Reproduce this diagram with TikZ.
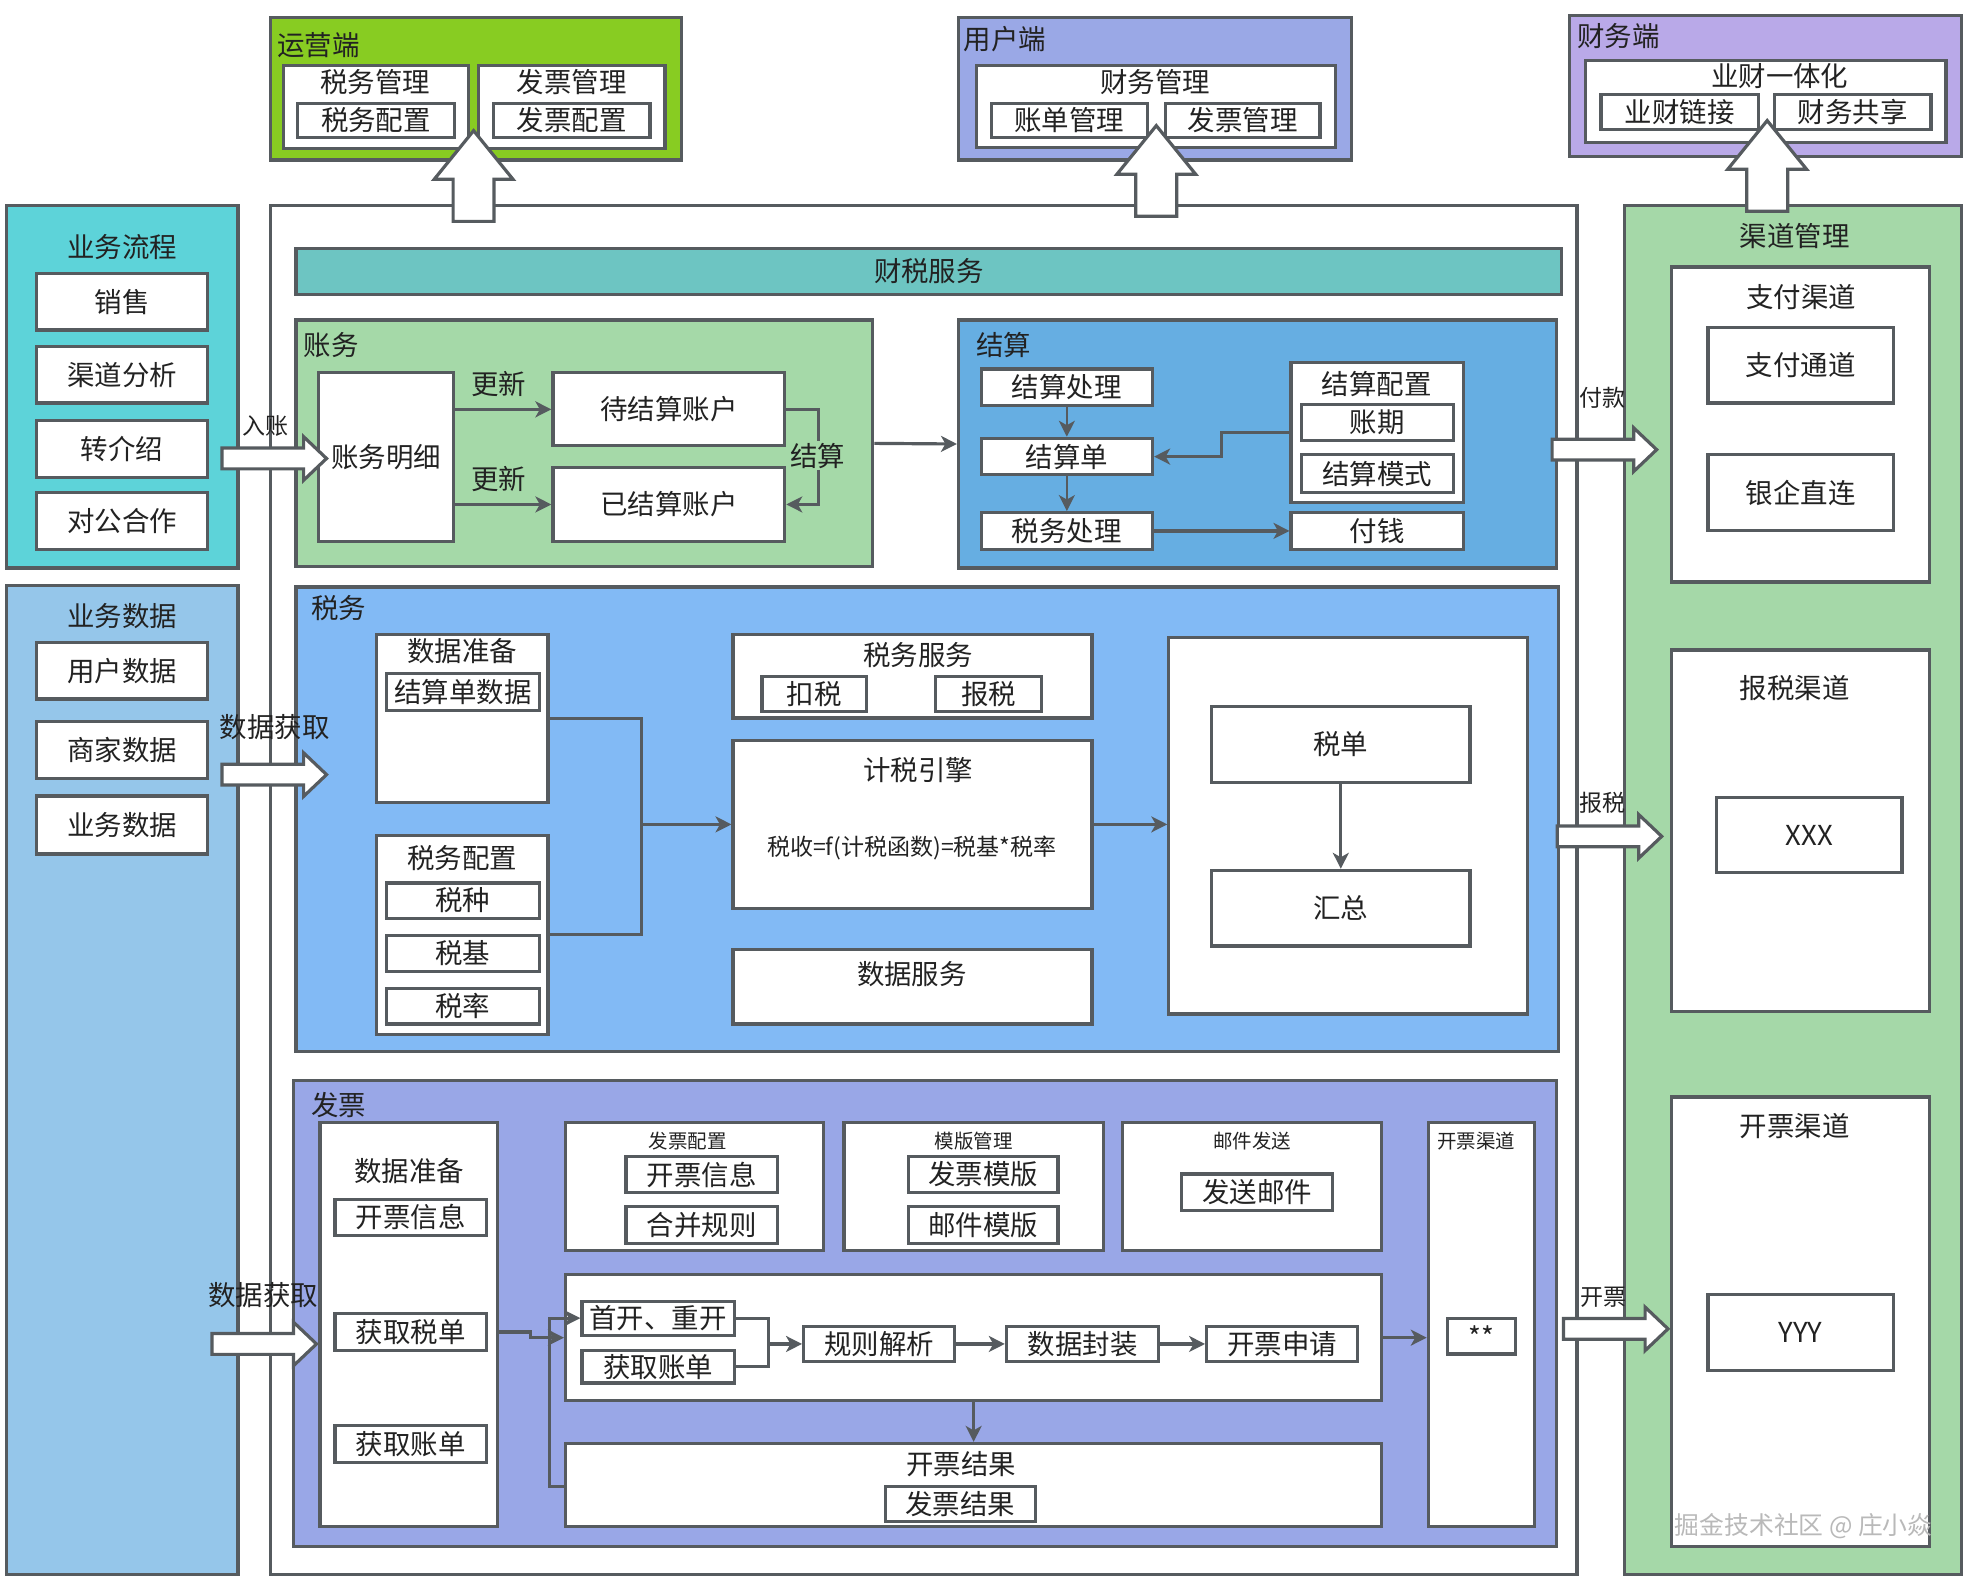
\documentclass[tikz,border=0pt]{standalone}
\usepackage{fontspec}
\setmainfont{Noto Sans CJK SC}
\usetikzlibrary{arrows.meta,shapes.arrows}

\definecolor{linegray}{HTML}{565B5F}
\definecolor{textdark}{HTML}{222222}
\definecolor{opsgreen}{HTML}{88CC22}
\definecolor{userblue}{HTML}{9AA8E6}
\definecolor{finpurple}{HTML}{B9A9E8}
\definecolor{flowcyan}{HTML}{5DD3D9}
\definecolor{datablue}{HTML}{95C6EA}
\definecolor{svcteal}{HTML}{6DC5C2}
\definecolor{acctgreen}{HTML}{A5D9A8}
\definecolor{settleblue}{HTML}{66AEE2}
\definecolor{taxblue}{HTML}{82BAF5}
\definecolor{invblue}{HTML}{99A7E7}
\definecolor{chgreen}{HTML}{A5D8A8}

\newcommand{\px}{0.025cm}
\newcommand{\mainsz}{\fontsize{15.5}{18}\selectfont}
\newcommand{\smallsz}{\fontsize{11}{13}\selectfont}
\newcommand{\tagsz}{\fontsize{13}{15}\selectfont}

\tikzset{
  cell/.style n args={4}{minimum width={(#3-#1)*\px}, minimum height={(#4-#2)*\px},
    at={({(#1+#3)/2},{(#2+#4)/2})}},
  panel/.style={draw=linegray, line width=1.8pt, inner sep=0pt},
  box/.style={panel, fill=white, font=\mainsz, text=textdark},
  title/.style={font=\mainsz, text=textdark, inner sep=0pt},
  head/.style={title, anchor=west},
  small/.style={font=\smallsz, text=textdark, inner sep=0pt},
  tag/.style={font=\tagsz, text=textdark, inner sep=0pt},
  link/.style={draw=linegray, line width=1.8pt},
  flow/.style={link, -{Stealth[length=9pt,width=9pt,inset=2.5pt]}},
  hollow/.style={single arrow, draw=linegray, fill=white, line width=1.8pt,
    inner sep=0pt, inner ysep=7*\px, minimum width=0pt, minimum height=83*\px,
    single arrow head extend=9*\px, single arrow tip angle=87, anchor=tail},
  hollowup/.style={hollow, rotate=90, inner ysep=15*\px, single arrow head extend=15*\px,
    minimum height=72*\px, single arrow tip angle=78},
}

\begin{document}
\begin{tikzpicture}[x=0.025cm, y=-0.025cm]
\useasboundingbox (0,0) rectangle (1568,1255);

% top: 运营端
\node[panel, fill=opsgreen, cell={215}{14}{541}{127}] (ops) {};
\node[head] (opslbl) at (220,36) {运营端};
\node[box, cell={225}{52}{372}{118}] (taxmgr) {};
\node[title] (taxmgrlbl) at (298,65) {税务管理};
\node[box, cell={236}{82}{361}{109}] (taxcfg) {税务配置};
\node[box, cell={380}{52}{528}{118}] (invmgr) {};
\node[title] (invmgrlbl) at (454,65) {发票管理};
\node[box, cell={392}{82}{516}{109}] (invcfg) {发票配置};

% top: 用户端
\node[panel, fill=userblue, cell={761}{14}{1073}{127}] (user) {};
\node[head] (userlbl) at (765,31) {用户端};
\node[box, cell={775}{52}{1060}{117}] (finmgr) {};
\node[title] (finmgrlbl) at (917,65) {财务管理};
\node[box, cell={787}{82}{911}{109}] (billmgr) {账单管理};
\node[box, cell={925}{82}{1048}{109}] (uinvmgr) {发票管理};

% top: 财务端
\node[panel, fill=finpurple, cell={1246}{12}{1557}{124}] (fin) {};
\node[head] (finlbl) at (1252,29) {财务端};
\node[box, cell={1259}{48}{1545}{113}] (bizfin) {};
\node[title] (bizfinlbl) at (1413,60) {业财一体化};
\node[box, cell={1271}{75}{1396}{103}] (bizlink) {业财链接};
\node[box, cell={1409}{75}{1533}{103}] (finshare) {财务共享};

% left: 业务流程 / 业务数据
\node[panel, fill=flowcyan, cell={5}{163}{189}{451}] (flow) {};
\node[title] (flowlbl) at (97,196) {业务流程};
\node[box, cell={29}{217}{165}{262}] (sale) {销售};
\node[box, cell={29}{275}{165}{320}] (chan) {渠道分析};
\node[box, cell={29}{334}{165}{379}] (refer) {转介绍};
\node[box, cell={29}{391}{165}{436}] (corp) {对公合作};
\node[panel, fill=datablue, cell={5}{465}{189}{1250}] (data) {};
\node[title] (datalbl) at (97,489) {业务数据};
\node[box, cell={29}{510}{165}{555}] (udata) {用户数据};
\node[box, cell={29}{573}{165}{618}] (mdata) {商家数据};
\node[box, cell={29}{632}{165}{678}] (bdata) {业务数据};

% center
\node[box, cell={215}{163}{1252}{1250}] (core) {};
\node[panel, fill=svcteal, font=\mainsz, text=textdark, cell={235}{197}{1240}{234}] (svc) {财税服务};

% 账务
\node[panel, fill=acctgreen, cell={235}{254}{693}{450}] (acct) {};
\node[head] (acctlbl) at (241,274) {账务};
\node[box, cell={253}{296}{360}{430}] (detail) {账务明细};
\node[box, cell={439}{296}{623}{354}] (pending) {待结算账户};
\node[box, cell={439}{371}{623}{430}] (settled) {已结算账户};
\draw[flow] (detail.east |- pending.west) -- (pending.west);
\draw[flow] (detail.east |- settled.west) -- (settled.west);
\node[title] (upd1) at (396,305) {更新};
\node[title] (upd2) at (396,380) {更新};
\draw[flow] (pending.east) -- (650,325) |- (settled.east);
\node[title, fill=acctgreen, inner sep=1pt] (settlelbl) at (649,362) {结算};

% 结算
\node[panel, fill=settleblue, cell={761}{254}{1236}{451}] (settle) {};
\node[head] (settlehd) at (775,274) {结算};
\draw[flow] (acct.east) -- (settle.west);
\node[box, cell={779}{293}{915}{322}] (sproc) {结算处理};
\node[box, cell={779}{348}{915}{377}] (sbill) {结算单};
\node[box, cell={779}{407}{915}{436}] (staxp) {税务处理};
\node[box, cell={1025}{288}{1162}{399}] (scfg) {};
\node[title] (scfglbl) at (1093,305) {结算配置};
\node[box, cell={1033}{321}{1154}{350}] (period) {账期};
\node[box, cell={1033}{361}{1154}{391}] (smode) {结算模式};
\node[box, cell={1025}{407}{1162}{436}] (pay) {付钱};
\draw[flow, line width=1.5pt] (sproc.south) -- (sbill.north);
\draw[flow, line width=1.5pt] (sbill.south) -- (staxp.north);
\draw[flow] (scfg.west) -- (970,343.5) |- (sbill.east);
\draw[flow] (staxp.east) -- (pay.west);

% 税务
\node[panel, fill=taxblue, cell={235}{466}{1237}{835}] (tax) {};
\node[head] (taxlbl) at (247,483) {税务};
\node[box, cell={299}{504}{435}{637}] (tprep) {};
\node[title] (tpreplbl) at (367,517) {数据准备};
\node[box, cell={307}{535}{428}{564}] (sdata) {结算单数据};
\node[box, cell={299}{663}{435}{821}] (tcfg) {};
\node[title] (tcfglbl) at (367,681) {税务配置};
\node[box, cell={307}{701}{428}{729}] (kind) {税种};
\node[box, cell={307}{743}{428}{771}] (tbase) {税基};
\node[box, cell={307}{785}{428}{813}] (trate) {税率};
\node[box, cell={582}{504}{867}{570}] (tsvc) {};
\node[title] (tsvclbl) at (729,520) {税务服务};
\node[box, cell={605}{537}{688}{565}] (withhold) {扣税};
\node[box, cell={743}{537}{827}{565}] (declare) {报税};
\node[box, cell={582}{588}{867}{721}] (engine) {};
\node[title] (enginelbl) at (729,611) {计税引擎};
\node[tag] (formula) at (724,673) {税收=f(计税函数)=税基*税率};
\node[box, cell={582}{754}{867}{813}] (dsvc) {};
\node[title] (dsvclbl) at (724,773) {数据服务};
\node[box, cell={928}{506}{1213}{805}] (tbox) {};
\node[box, cell={962}{561}{1167}{621}] (taxbill) {税单};
\node[box, cell={962}{691}{1167}{751}] (summary) {汇总};
\draw[link] (tprep.east) -- (509,570.5) -- (509,742) -- (tcfg.east);
\draw[flow] (509,654.5) -- (engine.west);
\draw[flow] (engine.east) -- (engine.east -| tbox.west);
\draw[flow, line width=1.5pt] (taxbill.south) -- (summary.north);

% 发票
\node[panel, fill=invblue, cell={233}{858}{1236}{1228}] (inv) {};
\node[head] (invlbl) at (247,877) {发票};
\node[box, cell={254}{891}{395}{1212}] (iprep) {};
\node[title] (ipreplbl) at (325,930) {数据准备};
\node[box, cell={266}{952}{386}{981}] (iinfo) {开票信息};
\node[box, cell={266}{1043}{386}{1072}] (gettax) {获取税单};
\node[box, cell={266}{1132}{386}{1161}] (getbill) {获取账单};
\node[box, cell={449}{891}{654}{993}] (icfg) {};
\node[small] (icfglbl) at (546,906) {发票配置};
\node[box, cell={497}{918}{617}{947}] (iinfo2) {开票信息};
\node[box, cell={497}{958}{617}{987}] (merge) {合并规则};
\node[box, cell={670}{891}{876}{993}] (tmpl) {};
\node[small] (tmpllbl) at (773,906) {模版管理};
\node[box, cell={721}{918}{840}{947}] (invtpl) {发票模版};
\node[box, cell={721}{958}{840}{987}] (mailtpl) {邮件模版};
\node[box, cell={891}{891}{1097}{993}] (mail) {};
\node[small] (maillbl) at (994,906) {邮件发送};
\node[box, cell={938}{932}{1058}{961}] (sendmail) {发送邮件};
\node[box, cell={1134}{891}{1218}{1212}] (ichan) {};
\node[small] (ichanlbl) at (1172,906) {开票渠道};
\node[box, cell={1149}{1047}{1203}{1075}] (star) {**};
\node[box, cell={449}{1012}{1097}{1112}] (proc) {};
\node[box, cell={462}{1033}{583}{1060}] (first) {首开、重开};
\node[box, cell={462}{1072}{583}{1098}] (pbill) {获取账单};
\node[box, cell={638}{1053}{758}{1081}] (parse) {规则解析};
\node[box, cell={799}{1053}{920}{1081}] (pack) {数据封装};
\node[box, cell={958}{1053}{1078}{1081}] (apply) {开票申请};
\node[box, cell={449}{1146}{1097}{1212}] (result) {};
\node[title] (resultlbl) at (763,1162) {开票结果};
\node[box, cell={703}{1180}{822}{1208}] (iresult) {发票结果};
\draw[link] (first.east) -- (610,1046.5) -- (610,1085) -- (pbill.east);
\draw[flow] (610,1067) -- (parse.west);
\draw[flow] (parse.east) -- (pack.west);
\draw[flow] (pack.east) -- (apply.west);
\draw[flow] (proc.east) -- (proc.east -| ichan.west);
\draw[flow, line width=1.5pt] (proc.south) -- (result.north);
\draw[flow] (iprep.east |- gettax.east) -- (421,1057.5) |- (proc.west);
\draw[flow] (result.west |- 0,1180) -- (436,1180) |- (first.west);

% right: 渠道管理
\node[panel, fill=chgreen, cell={1290}{163}{1557}{1250}] (chmgr) {};
\node[title] (chmgrlbl) at (1425,187) {渠道管理};
\node[box, cell={1327}{212}{1532}{462}] (paych) {};
\node[title] (paychlbl) at (1430,236) {支付渠道};
\node[box, cell={1356}{260}{1503}{320}] (paypass) {支付通道};
\node[box, cell={1356}{361}{1503}{421}] (bank) {银企直连};
\node[box, cell={1327}{516}{1532}{803}] (taxch) {};
\node[title] (taxchlbl) at (1425,546) {报税渠道};
\node[box, cell={1363}{633}{1510}{693}] (xxx) {XXX};
\node[box, cell={1327}{871}{1532}{1228}] (invch) {};
\node[title] (invchlbl) at (1425,894) {开票渠道};
\node[box, cell={1356}{1028}{1503}{1088}] (yyy) {YYY};
\node[font=\fontsize{14}{16}\selectfont, text=gray!55] (mark) at (1432,1212) {掘金技术社区 @ 庄小焱};

% hollow arrows
\node[hollowup] (up1) at (376,177) {};
\node[hollowup] (up2) at (918,173) {};
\node[hollowup] (up3) at (1403,169) {};
\node[hollow] (inarr) at (175,364) {};
\node[tag] (inlbl) at (211,338) {入账};
\node[hollow] (get1) at (175,615) {};
\node[title] (get1lbl) at (218,577) {数据获取};
\node[hollow] (get2) at (167,1067) {};
\node[title] (get2lbl) at (209,1028) {数据获取};
\node[hollow] (payarr) at (1231,357) {};
\node[tag] (paylbl) at (1272,316) {付款};
\node[hollow] (taxarr) at (1235,664) {};
\node[tag] (taxlbl2) at (1272,637) {报税};
\node[hollow] (invarr) at (1240,1055) {};
\node[tag] (invlbl2) at (1273,1030) {开票};
\end{tikzpicture}
\end{document}
